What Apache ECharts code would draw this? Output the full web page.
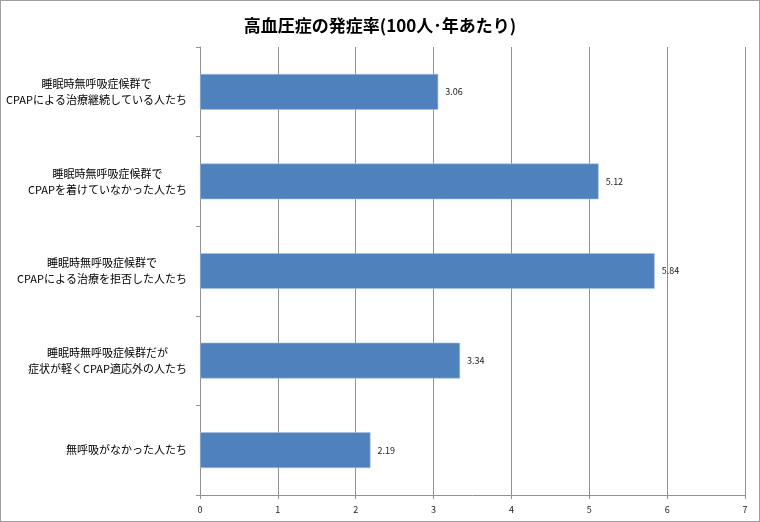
<!DOCTYPE html>
<html><head><meta charset="utf-8">
<script src="https://cdn.jsdelivr.net/npm/echarts@6/dist/echarts.min.js"></script>
<style>
html,body{margin:0;padding:0;background:#fff;}
#wrap{position:absolute;left:0;top:0;width:758px;height:520px;border:1px solid #a0a0a0;}
#c{width:760px;height:522px;position:absolute;left:-1px;top:-1px;}
</style></head>
<body><div id="wrap"><div id="c"></div></div>
<script>
const titleText = '高血圧症の発症率(100人･年あたり)';
const categories = [
  '睡眠時無呼吸症候群で\nCPAPによる治療継続している人たち',
  '睡眠時無呼吸症候群で\nCPAPを着けていなかった人たち',
  '睡眠時無呼吸症候群で\nCPAPによる治療を拒否した人たち',
  '睡眠時無呼吸症候群だが\n症状が軽くCPAP適応外の人たち',
  '無呼吸がなかった人たち'
];
const values = [3.06, 5.12, 5.84, 3.34, 2.19];
const xMin = 0, xMax = 7, xStep = 1;

const font = '"Noto Sans CJK JP", sans-serif';
const chart = echarts.init(document.getElementById('c'));
chart.setOption({
  backgroundColor: 'transparent',
  animation: false,
  title: {
    text: titleText, left: 'center', top: 12,
    textStyle: {fontFamily: font, fontSize: 17, fontWeight: 'bold', color: '#000'}
  },
  grid: {left: 200, right: 15, top: 47, bottom: 27},
  xAxis: {
    type: 'value', min: xMin, max: xMax, interval: xStep,
    axisLine: {show: true, lineStyle: {color: '#929292'}},
    axisTick: {show: true, length: 4, lineStyle: {color: '#929292'}},
    splitLine: {show: true, lineStyle: {color: '#929292', width: 1}},
    axisLabel: {fontFamily: font, fontSize: 9, color: '#222', margin: 10}
  },
  yAxis: {
    type: 'category', data: categories, inverse: true,
    axisLine: {show: true, lineStyle: {color: '#929292'}},
    axisTick: {show: true, length: 4, lineStyle: {color: '#929292'}},
    axisLabel: {
      margin: 13, align: 'right',
      formatter: v => v.split('\n').map(l => '{c|' + l + '}').join('\n'),
      rich: {c: {align: 'center', fontFamily: font, fontSize: 11, lineHeight: 16, color: '#000'}}
    }
  },
  series: [{
    type: 'bar', data: values, barCategoryGap: '60%',
    itemStyle: {color: '#4f81bd', borderColor: '#a9c2e3', borderWidth: 0.6},
    label: {show: true, position: 'right', distance: 7, fontFamily: font, fontSize: 9, color: '#222',
      formatter: p => p.value.toFixed(2)}
  }]
});
</script></body></html>
